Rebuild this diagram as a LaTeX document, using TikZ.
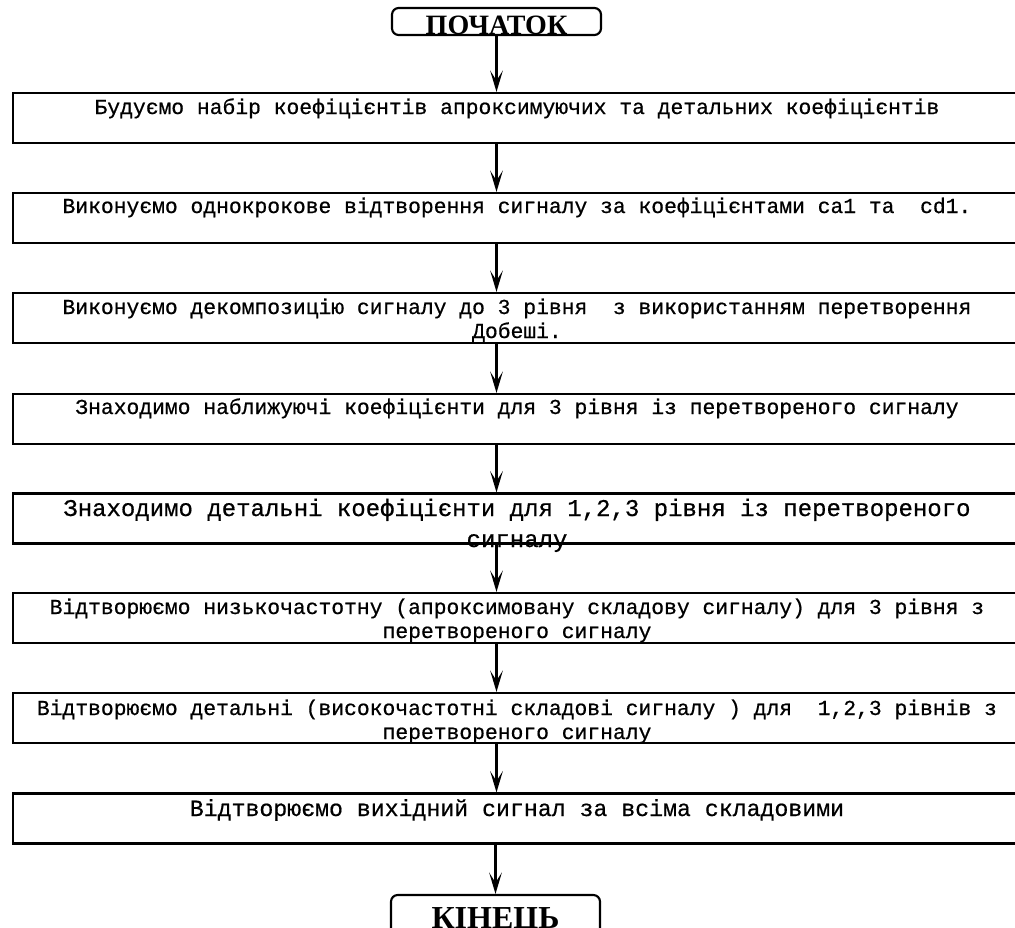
\documentclass[tikz,border=0pt]{standalone}
\usepackage{fontspec}
\setmainfont{Liberation Serif}
\newfontfamily\monof[FakeBold=0.6]{Liberation Mono}
\usetikzlibrary{arrows.meta}
\tikzset{
  procbox/.style={draw, line width=1.6pt, minimum width=1008*0.75pt, minimum height=50*0.75pt, inner sep=0pt},
  termbox/.style={draw, line width=1.6pt, rounded corners=5pt, minimum width=209*0.75pt, minimum height=27*0.75pt, inner sep=0pt},
  boxtxt/.style={font=\monof\fontsize{16pt}{20pt}\selectfont, anchor=base, inner sep=0pt},
  bigtxt/.style={font=\monof\fontsize{18pt}{22pt}\selectfont, anchor=base, inner sep=0pt},
  midtxt/.style={font=\monof\fontsize{17.4pt}{21pt}\selectfont, anchor=base, inner sep=0pt},
  termtxt/.style={font=\bfseries\fontsize{21pt}{24pt}\selectfont, anchor=base, inner sep=0pt},
  arr/.style={line width=1.6pt, -{Stealth[length=16pt,width=9.5pt,inset=7.5pt]}}
}
\begin{document}
\begin{tikzpicture}[x=0.75pt,y=-0.75pt]
\useasboundingbox (0,0) rectangle (1015,928);
\clip (0,0) rectangle (1015,928);
\fill[white] (0,0) rectangle (1015,928);

% terminals
\node[termbox] (start) at (496.5,21.5) {};
\node[termtxt] (starttxt) at (496.5,35) {ПОЧАТОК};

% process boxes
\node[procbox] (b1) at (517,118) {};
\node[boxtxt] (t1) at (517,114) {Будуємо набір коефіцієнтів апроксимуючих та детальних коефіцієнтів};

\node[procbox] (b2) at (517,218) {};
\node[boxtxt] (t2) at (517,213) {Виконуємо однокрокове відтворення сигналу за коефіцієнтами ca1 та\ \ cd1.};

\node[procbox] (b3) at (517,318) {};
\node[boxtxt] (t3a) at (517,314) {Виконуємо декомпозицію сигналу до 3 рівня\ \ з використанням перетворення};
\node[boxtxt] (t3b) at (517,338) {Добеші.};

\node[procbox] (b4) at (517,419) {};
\node[boxtxt] (t4) at (517,414) {Знаходимо наближуючі коефіцієнти для 3 рівня із перетвореного сигналу};

\node[procbox] (b5) at (517,518.5) {};
\node[bigtxt] (t5a) at (517,516) {Знаходимо детальні коефіцієнти для 1,2,3 рівня із перетвореного};
\node[bigtxt] (t5b) at (517,547) {сигналу};

\node[procbox] (b6) at (517,618) {};
\node[boxtxt] (t6a) at (517,614) {Відтворюємо низькочастотну (апроксимовану складову сигналу) для 3 рівня з};
\node[boxtxt] (t6b) at (517,638) {перетвореного сигналу};

\node[procbox] (b7) at (517,718) {};
\node[boxtxt] (t7a) at (517,715) {Відтворюємо детальні (високочастотні складові сигналу ) для\ \ 1,2,3 рівнів з};
\node[boxtxt] (t7b) at (517,739) {перетвореного сигналу};

\node[procbox] (b8) at (517,818.5) {};
\node[midtxt] (t8) at (517,816) {Відтворюємо вихідний сигнал за всіма складовими};

\node[termbox, minimum height=45*0.75pt] (end) at (495.5,917.5) {};
\node[termtxt, font=\bfseries\fontsize{24pt}{28pt}\selectfont] (endtxt) at (495.5,928) {КІНЕЦЬ};

% connectors
\draw[arr] (start.south) -- (start.south |- b1.north);
\draw[arr] (b1.south -| start.south) -- (b2.north -| start.south);
\draw[arr] (b2.south -| start.south) -- (b3.north -| start.south);
\draw[arr] (b3.south -| start.south) -- (b4.north -| start.south);
\draw[arr] (b4.south -| start.south) -- (b5.north -| start.south);
\draw[arr] (b5.south -| start.south) -- (b6.north -| start.south);
\draw[arr] (b6.south -| start.south) -- (b7.north -| start.south);
\draw[arr] (b7.south -| start.south) -- (b8.north -| start.south);
\draw[arr] (b8.south -| end.north) -- (end.north);
\end{tikzpicture}
\end{document}
